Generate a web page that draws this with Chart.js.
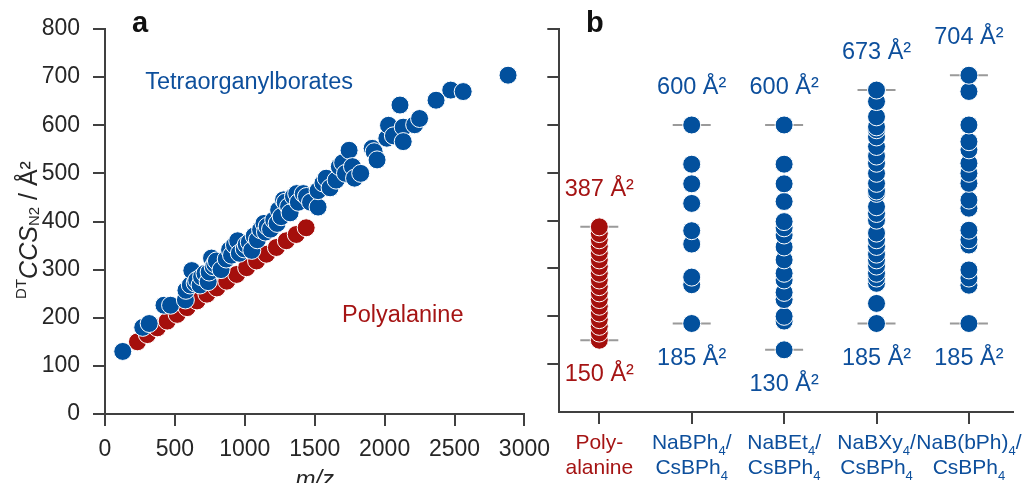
<!DOCTYPE html>
<html><head><meta charset="utf-8">
<script src="https://cdn.jsdelivr.net/npm/chart.js@4/dist/chart.umd.min.js"></script>
<style>
html,body{margin:0;padding:0;background:#fff;width:1023px;height:483px;overflow:hidden;}
#ca{position:absolute;left:0;top:0;}
#cb{position:absolute;left:540px;top:0;}
</style></head><body>
<canvas id="ca" width="560" height="483"></canvas>
<canvas id="cb" width="483" height="483"></canvas>
<script>
// ---------- data ----------
const polyMz  = [232, 303, 374, 445, 516, 587, 658, 729, 800, 871, 942, 1013, 1084, 1155, 1226, 1297, 1368, 1439];
const polyCcs = [150, 165, 179, 193, 207, 221, 235, 249, 262, 276, 290, 304, 318, 332, 346, 360, 373, 387];

const borateMz  = [127, 270, 316, 422, 469, 575, 579, 610, 621, 645, 656, 680, 691, 715, 738, 745, 762, 774, 785, 797,
                   830, 867, 891, 905, 926, 949, 961, 996, 1010, 1032, 1050, 1067, 1090, 1113, 1137, 1148, 1160, 1184, 1207, 1231,
                   1242, 1260, 1277, 1289, 1313, 1324, 1348, 1371, 1383, 1418, 1441, 1470, 1524, 1524, 1559, 1582, 1610, 1653, 1676, 1700,
                   1720, 1746, 1770, 1785, 1829, 1911, 1925, 1946, 2016, 2028, 2063, 2110, 2133, 2133, 2215, 2250, 2368, 2473, 2562, 2883];
const borateCcs = [130, 180, 188, 226, 226, 237, 257, 268, 298, 272, 278, 268, 285, 292, 275, 295, 324, 306, 312, 318,
                   300, 322, 341, 330, 351, 360, 334, 343, 352, 357, 340, 370, 362, 383, 396, 378, 390, 384, 403, 396,
                   424, 410, 445, 440, 431, 418, 452, 458, 440, 458, 452, 440, 430, 464, 480, 490, 470, 486, 514, 522,
                   500, 548, 514, 490, 500, 552, 545, 528, 573, 600, 578, 642, 596, 566, 601, 614, 652, 673, 670, 704];

const xTicksA = [0, 500, 1000, 1500, 2000, 2500, 3000];
const yTicks  = [0, 100, 200, 300, 400, 500, 600, 700, 800];

const categories = [['Poly-', 'alanine'], ['NaBPh_4/', 'CsBPh_4'], ['NaBEt_4/', 'CsBPh_4'], ['NaBXy_4/', 'CsBPh_4'], ['NaB(bPh)_4/', 'CsBPh_4']];
const colPoly    = polyCcs;
const colNaBPh4  = [185, 266, 282, 351, 379, 436, 477, 518, 600];
const colNaBEt4  = [130, 190, 200, 235, 250, 276, 290, 318, 345, 370, 385, 398, 440, 477, 518, 600];
const colNaBXy4  = [185, 227, 269, 280, 290, 305, 318, 330, 346, 360, 374, 401, 415, 429, 457, 462, 478, 499, 520, 535, 555, 575, 590, 596, 617, 649, 673];
const colNaBbPh4 = [185, 265, 280, 297, 349, 360, 380, 426, 443, 478, 499, 520, 548, 565, 600, 670, 704];
const columns = [colPoly, colNaBPh4, colNaBEt4, colNaBXy4, colNaBbPh4];

// ---------- style ----------
const FONT = '"Liberation Sans", Arial, sans-serif';
const BLUE = '#02509d', RED = '#a50f0c', BLUE_T = '#0d4f9c', RED_T = '#a51414';
const AXIS = '#404040', TXT = '#262626';

function fontFor(s, base) {
  const size = (s.sub || s.sup) ? Math.round(base * 0.6) : base;
  return (s.italic ? 'italic ' : '') + (s.bold ? 'bold ' : '') + size + 'px ' + FONT;
}
function drawRich(ctx, segs, x, y, base, color) {
  let w = 0;
  for (const s of segs) { ctx.font = fontFor(s, base); w += ctx.measureText(s.t).width; }
  let cx = x - w / 2;
  ctx.fillStyle = color; ctx.textAlign = 'left'; ctx.textBaseline = 'alphabetic';
  for (const s of segs) {
    ctx.font = fontFor(s, base);
    const dy = (s.dy !== undefined) ? s.dy : (s.sub ? base * 0.3 : (s.sup ? -base * 0.42 : 0));
    ctx.fillText(s.t, cx, y + dy);
    cx += ctx.measureText(s.t).width;
  }
}
function parseLabel(str) {
  const parts = str.split(/_(\d)/);
  return parts.map((t, i) => ({ t, sub: i % 2 === 1 })).filter(s => s.t.length);
}

const axisCommon = {
  grid: { drawOnChartArea: false, drawTicks: true, tickLength: 12, lineWidth: 2, color: AXIS },
  border: { display: true, color: AXIS, width: 2 },
};

// ---------- panel a ----------
const annotA = {
  id: 'annotA',
  afterDraw(chart) {
    const ctx = chart.ctx, xs = chart.scales.x, ys = chart.scales.y;
    ctx.save();
    ctx.textAlign = 'left'; ctx.textBaseline = 'alphabetic';
    ctx.font = '23.5px ' + FONT;
    ctx.fillStyle = BLUE_T;
    ctx.fillText('Tetraorganylborates', xs.getPixelForValue(288), ys.getPixelForValue(676));
    ctx.fillStyle = RED_T;
    ctx.fillText('Polyalanine', xs.getPixelForValue(1695), ys.getPixelForValue(191));
    // panel letter
    ctx.fillStyle = '#111'; ctx.font = 'bold 29px ' + FONT;
    ctx.fillText('a', 132, 32);
    // x title
    drawRich(ctx, [{ t: 'm/z', italic: true }], (xs.left + xs.right) / 2, 487, 24, TXT);
    // y title rotated
    ctx.translate(37, 230);
    ctx.rotate(-Math.PI / 2);
    drawRich(ctx, [{ t: 'DT', sup: true, dy: -11 }, { t: 'CCS', italic: true }, { t: 'N2', sub: true, dy: 1.5 }, { t: ' / Å²' }], 0, 0, 25, TXT);
    ctx.restore();
  }
};

const tickFont = { family: FONT, size: 23 };

new Chart(document.getElementById('ca'), {
  type: 'scatter',
  data: {
    datasets: [
      { data: borateMz.map((x, i) => ({ x, y: borateCcs[i] })), backgroundColor: BLUE, borderColor: '#ffffff', borderWidth: 1, pointRadius: 9, pointHoverRadius: 9 },
      { data: polyMz.map((x, i) => ({ x, y: polyCcs[i] })), backgroundColor: RED, borderColor: '#ffffff', borderWidth: 1, pointRadius: 9, pointHoverRadius: 9 }
    ]
  },
  options: {
    responsive: false, animation: false, devicePixelRatio: 1, events: [],
    layout: { padding: { left: 0, top: 29, right: 28, bottom: 0 } },
    plugins: { legend: { display: false }, tooltip: { enabled: false } },
    scales: {
      x: Object.assign({
        type: 'linear', min: 0, max: 3000,
        afterBuildTicks: s => { s.ticks = xTicksA.map(v => ({ value: v })); },
        afterFit: s => { s.height = 69; },
        ticks: { font: tickFont, color: TXT, padding: 10, maxRotation: 0, autoSkip: false, callback: v => String(v) }
      }, axisCommon),
      y: Object.assign({
        type: 'linear', min: 0, max: 800,
        afterBuildTicks: s => { s.ticks = yTicks.map(v => ({ value: v })); },
        afterFit: s => { s.width = 105; },
        ticks: { font: tickFont, color: TXT, padding: 13, autoSkip: false, callback: v => String(v) }
      }, axisCommon)
    }
  },
  plugins: [annotA]
});

// ---------- panel b ----------
const annotB = {
  id: 'annotB',
  beforeDatasetsDraw(chart) {
    const ctx = chart.ctx, xs = chart.scales.x, ys = chart.scales.y;
    ctx.save();
    ctx.strokeStyle = '#9a9a9a'; ctx.lineWidth = 2;
    columns.forEach((vals, i) => {
      const px = xs.getPixelForValue(i);
      [Math.min(...vals), Math.max(...vals)].forEach(v => {
        const py = ys.getPixelForValue(v);
        ctx.beginPath(); ctx.moveTo(px - 19, py); ctx.lineTo(px + 19, py); ctx.stroke();
      });
    });
    ctx.restore();
  },
  afterDraw(chart) {
    const ctx = chart.ctx, xs = chart.scales.x, ys = chart.scales.y;
    ctx.save();
    columns.forEach((vals, i) => {
      const px = xs.getPixelForValue(i);
      const col = i === 0 ? RED_T : BLUE_T;
      const mn = Math.min(...vals), mx = Math.max(...vals);
      ctx.font = '23.5px ' + FONT; ctx.fillStyle = col; ctx.textAlign = 'center'; ctx.textBaseline = 'alphabetic';
      ctx.fillText(mx + ' Å²', px, ys.getPixelForValue(mx) - 31);
      ctx.fillText(mn + ' Å²', px, ys.getPixelForValue(mn) + 41);
      categories[i].forEach((line, k) => {
        drawRich(ctx, parseLabel(line), px, 449 + k * 25, 21, col);
      });
    });
    ctx.fillStyle = '#111'; ctx.font = 'bold 29px ' + FONT; ctx.textAlign = 'left';
    ctx.fillText('b', 46, 32);
    ctx.restore();
  }
};

new Chart(document.getElementById('cb'), {
  type: 'scatter',
  data: {
    datasets: columns.map((vals, i) => ({
      data: vals.map(v => ({ x: i, y: v })),
      backgroundColor: i === 0 ? RED : BLUE, borderColor: '#ffffff', borderWidth: 1, pointRadius: 9, pointHoverRadius: 9
    }))
  },
  options: {
    responsive: false, animation: false, devicePixelRatio: 1, events: [],
    layout: { padding: { left: 0, top: 29.3, right: 10, bottom: 0 } },
    plugins: { legend: { display: false }, tooltip: { enabled: false } },
    scales: {
      x: Object.assign({
        type: 'linear', min: -0.433, max: 4.477,
        afterBuildTicks: s => { s.ticks = [0, 1, 2, 3, 4].map(v => ({ value: v })); },
        afterFit: s => { s.height = 71; },
        ticks: { display: false }
      }, axisCommon),
      y: Object.assign({
        type: 'linear', min: 0, max: 800,
        afterBuildTicks: s => { s.ticks = yTicks.map(v => ({ value: v })); },
        afterFit: s => { s.width = 19.3; },
        ticks: { display: false }
      }, axisCommon, {
        grid: { drawOnChartArea: false, drawTicks: true, tickLength: 12, lineWidth: 2,
                color: ctx => (ctx.tick && ctx.tick.value === 0) ? 'rgba(0,0,0,0)' : AXIS }
      })
    }
  },
  plugins: [annotB]
});
</script>
</body></html>
